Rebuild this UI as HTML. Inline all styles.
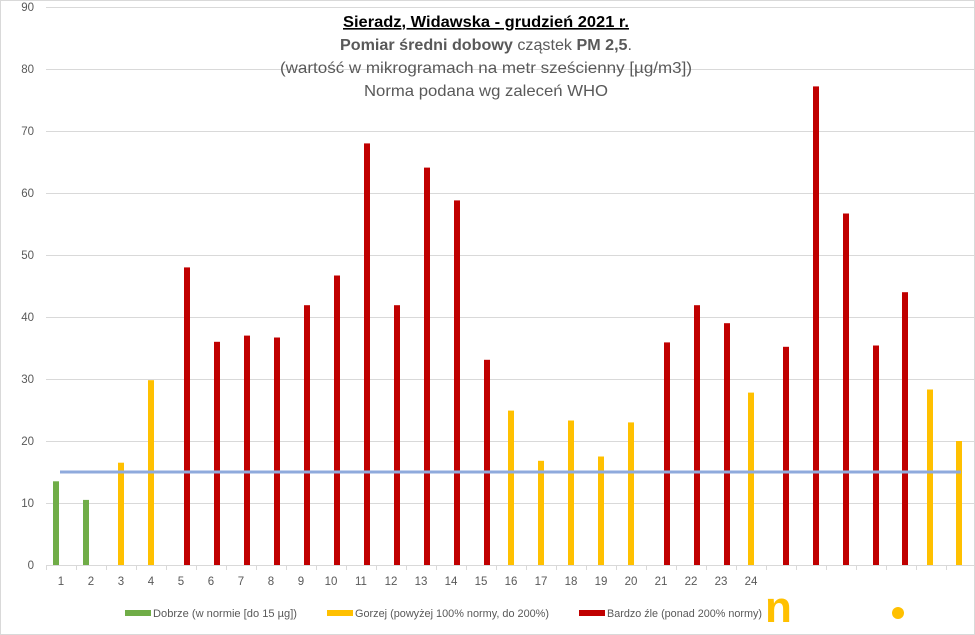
<!DOCTYPE html>
<html><head><meta charset="utf-8"><style>
body{margin:0;background:#fff;}
svg{display:block;font-family:"Liberation Sans","DejaVu Sans",sans-serif;}
</style></head><body>
<svg width="975" height="635" viewBox="0 0 975 635" xmlns="http://www.w3.org/2000/svg">
<rect x="0" y="0" width="975" height="635" fill="#fff"/>
<rect x="0.5" y="0.5" width="974" height="634" fill="none" stroke="#d9d9d9"/>
<g stroke="#d9d9d9" stroke-width="1">
<line x1="46" x2="975" y1="7.5" y2="7.5"/><line x1="46" x2="975" y1="69.5" y2="69.5"/>
<line x1="46" x2="975" y1="131.5" y2="131.5"/><line x1="46" x2="975" y1="193.5" y2="193.5"/>
<line x1="46" x2="975" y1="255.5" y2="255.5"/><line x1="46" x2="975" y1="317.5" y2="317.5"/>
<line x1="46" x2="975" y1="379.5" y2="379.5"/><line x1="46" x2="975" y1="441.5" y2="441.5"/>
<line x1="46" x2="975" y1="503.5" y2="503.5"/><line x1="46" x2="975" y1="565.5" y2="565.5"/>
</g>
<g stroke="#d9d9d9">
<line x1="46.5" x2="46.5" y1="565" y2="570"/><line x1="76.5" x2="76.5" y1="565" y2="570"/><line x1="106.5" x2="106.5" y1="565" y2="570"/><line x1="136.5" x2="136.5" y1="565" y2="570"/><line x1="166.5" x2="166.5" y1="565" y2="570"/><line x1="196.5" x2="196.5" y1="565" y2="570"/><line x1="226.5" x2="226.5" y1="565" y2="570"/><line x1="256.5" x2="256.5" y1="565" y2="570"/><line x1="286.5" x2="286.5" y1="565" y2="570"/><line x1="316.5" x2="316.5" y1="565" y2="570"/><line x1="346.5" x2="346.5" y1="565" y2="570"/><line x1="376.5" x2="376.5" y1="565" y2="570"/><line x1="406.5" x2="406.5" y1="565" y2="570"/><line x1="436.5" x2="436.5" y1="565" y2="570"/><line x1="466.5" x2="466.5" y1="565" y2="570"/><line x1="496.5" x2="496.5" y1="565" y2="570"/><line x1="526.5" x2="526.5" y1="565" y2="570"/><line x1="556.5" x2="556.5" y1="565" y2="570"/><line x1="586.5" x2="586.5" y1="565" y2="570"/><line x1="616.5" x2="616.5" y1="565" y2="570"/><line x1="646.5" x2="646.5" y1="565" y2="570"/><line x1="676.5" x2="676.5" y1="565" y2="570"/><line x1="706.5" x2="706.5" y1="565" y2="570"/><line x1="736.5" x2="736.5" y1="565" y2="570"/><line x1="766.5" x2="766.5" y1="565" y2="570"/><line x1="796.5" x2="796.5" y1="565" y2="570"/><line x1="826.5" x2="826.5" y1="565" y2="570"/><line x1="856.5" x2="856.5" y1="565" y2="570"/><line x1="886.5" x2="886.5" y1="565" y2="570"/><line x1="916.5" x2="916.5" y1="565" y2="570"/><line x1="946.5" x2="946.5" y1="565" y2="570"/>
</g>
<g font-size="11.5" fill="#595959" text-anchor="end">
<text x="34" y="11">90</text><text x="34" y="73">80</text><text x="34" y="135">70</text><text x="34" y="197">60</text><text x="34" y="259">50</text><text x="34" y="321">40</text><text x="34" y="383">30</text><text x="34" y="445">20</text><text x="34" y="507">10</text><text x="34" y="569">0</text>
</g>
<g font-size="11.5" fill="#595959" text-anchor="middle">
<text x="61" y="585">1</text><text x="91" y="585">2</text><text x="121" y="585">3</text><text x="151" y="585">4</text><text x="181" y="585">5</text><text x="211" y="585">6</text><text x="241" y="585">7</text><text x="271" y="585">8</text><text x="301" y="585">9</text><text x="331" y="585">10</text><text x="361" y="585">11</text><text x="391" y="585">12</text><text x="421" y="585">13</text><text x="451" y="585">14</text><text x="481" y="585">15</text><text x="511" y="585">16</text><text x="541" y="585">17</text><text x="571" y="585">18</text><text x="601" y="585">19</text><text x="631" y="585">20</text><text x="661" y="585">21</text><text x="691" y="585">22</text><text x="721" y="585">23</text><text x="751" y="585">24</text>
</g>
<g fill="#70ad47">
<rect x="53" y="481.3" width="6" height="83.7"/><rect x="83" y="499.9" width="6" height="65.1"/>
</g>
<g fill="#ffc000">
<rect x="118" y="462.7" width="6" height="102.3"/><rect x="148" y="380.2" width="6" height="184.8"/>
<rect x="508" y="410.6" width="6" height="154.4"/><rect x="538" y="460.8" width="6" height="104.2"/>
<rect x="568" y="420.5" width="6" height="144.5"/><rect x="598" y="456.5" width="6" height="108.5"/>
<rect x="628" y="422.4" width="6" height="142.6"/><rect x="748" y="392.6" width="6" height="172.4"/>
<rect x="927" y="389.5" width="6" height="175.5"/><rect x="956" y="441" width="6" height="124"/>
</g>
<g fill="#c00000">
<rect x="184" y="267.4" width="6" height="297.6"/><rect x="214" y="341.8" width="6" height="223.2"/>
<rect x="244" y="335.6" width="6" height="229.4"/><rect x="274" y="337.5" width="6" height="227.5"/>
<rect x="304" y="305.2" width="6" height="259.8"/><rect x="334" y="275.5" width="6" height="289.5"/>
<rect x="364" y="143.4" width="6" height="421.6"/><rect x="394" y="305.2" width="6" height="259.8"/>
<rect x="424" y="167.6" width="6" height="397.4"/><rect x="454" y="200.4" width="6" height="364.6"/>
<rect x="484" y="359.8" width="6" height="205.2"/><rect x="664" y="342.4" width="6" height="222.6"/>
<rect x="694" y="305.2" width="6" height="259.8"/><rect x="724" y="323.2" width="6" height="241.8"/>
<rect x="783" y="346.8" width="6" height="218.2"/><rect x="813" y="86.4" width="6" height="478.6"/>
<rect x="843" y="213.5" width="6" height="351.5"/><rect x="873" y="345.5" width="6" height="219.5"/>
<rect x="902" y="292.2" width="6" height="272.8"/>
</g>
<line x1="60" x2="961" y1="472" y2="472" stroke="#8faadc" stroke-width="3"/>
<g text-anchor="middle" font-size="16" fill="#595959">
<text x="486" y="27" font-weight="bold" fill="#000" text-decoration="underline" textLength="286" lengthAdjust="spacingAndGlyphs">Sieradz, Widawska - grudzień 2021 r.</text>
<text x="486" y="50" textLength="292" lengthAdjust="spacingAndGlyphs"><tspan font-weight="bold">Pomiar średni dobowy</tspan> cząstek <tspan font-weight="bold">PM 2,5</tspan>.</text>
<text x="486" y="73" textLength="412" lengthAdjust="spacingAndGlyphs">(wartość w mikrogramach na metr sześcienny [µg/m3])</text>
<text x="486" y="96" textLength="244" lengthAdjust="spacingAndGlyphs">Norma podana wg zaleceń WHO</text>
</g>
<g font-size="11" fill="#595959">
<rect x="125" y="610" width="26" height="6" fill="#70ad47"/><text x="153" y="617" textLength="144" lengthAdjust="spacingAndGlyphs">Dobrze (w normie [do 15 µg])</text>
<rect x="327" y="610" width="26" height="6" fill="#ffc000"/><text x="355" y="617" textLength="194" lengthAdjust="spacingAndGlyphs">Gorzej (powyżej 100% normy, do 200%)</text>
<rect x="579" y="610" width="26" height="6" fill="#c00000"/><text x="607" y="617" textLength="155" lengthAdjust="spacingAndGlyphs">Bardzo źle (ponad 200% normy)</text>
</g>
<text x="765" y="622" font-size="44" font-weight="bold" fill="#ffc000">n</text>
<circle cx="898" cy="613" r="6" fill="#ffc000"/>
</svg>
</body></html>
